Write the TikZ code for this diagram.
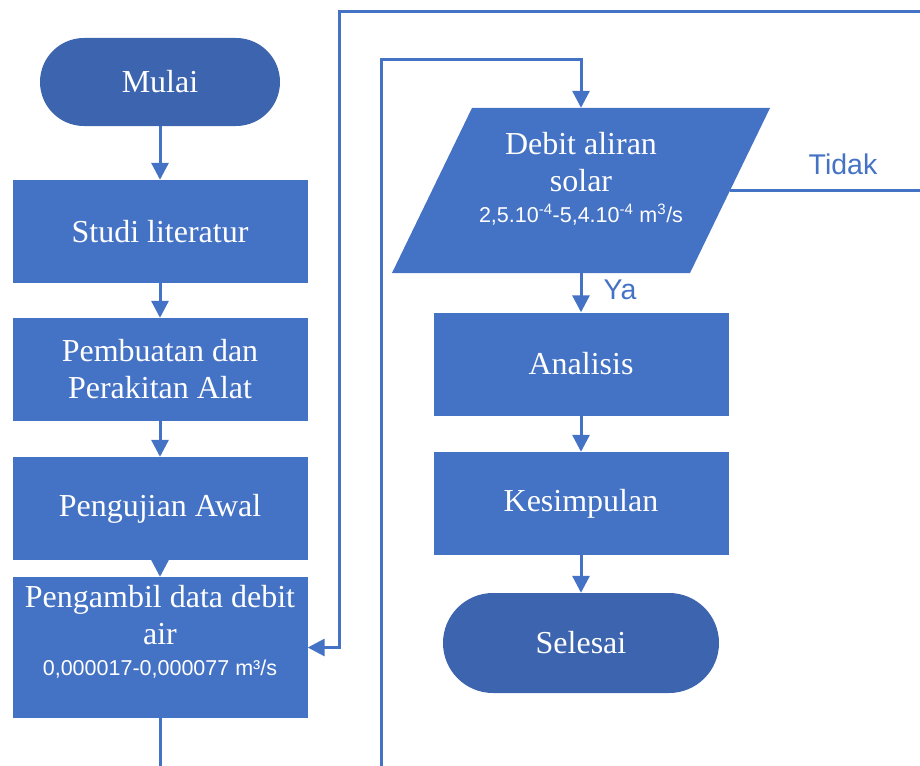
\documentclass[tikz,border=0pt]{standalone}
\usepackage{fontspec}
\setmainfont{Liberation Serif}
\setsansfont{Liberation Sans}
\usetikzlibrary{arrows.meta}
\definecolor{boxblue}{HTML}{4472C4}
\definecolor{endblue}{HTML}{3D64AE}
\newcommand{\kecil}{\sffamily\fontsize{21.5}{26}\selectfont}
\tikzset{
	kotak/.style={fill=boxblue, text=white, minimum width=295, minimum height=103, align=center, inner sep=0pt, font=\fontsize{32}{37}\selectfont},
	ujung/.style={fill=endblue, text=white, rounded corners=#1, align=center, inner sep=0pt, font=\fontsize{32}{37}\selectfont},
	panah/.style={draw=boxblue, line width=3pt, -{Triangle[width=17pt,length=17pt]}},
	label/.style={text=boxblue, font=\sffamily\fontsize{28.5}{32}\selectfont}
}

\begin{document}
\begin{tikzpicture}[x=1pt, y=-1pt]
		%%%%% START %%%%%
		
		\useasboundingbox (0, 0) rectangle (920, 765);
		\clip (0, 0) rectangle (920, 765);
		
		% kolom kiri
		\node[ujung=44pt, minimum width=240, minimum height=88] (mulai) at (160, 82) {Mulai};
		\node[kotak] (studi) at (160, 231.5) {Studi literatur};
		\node[kotak] (rakit) at (160, 369.5) {Pembuatan dan\\Perakitan Alat};
		\node[kotak] (uji) at (160, 508.5) {Pengujian Awal};
		\node[kotak, minimum height=141] (ambil) at (160, 647.5) {Pengambil data debit\\air\\[-6pt]{\kecil 0,000017-0,000077 m³/s}\\[-2pt]};
		
		\draw[panah] (mulai) -- (studi);
		\draw[panah] (studi) -- (rakit);
		\draw[panah] (rakit) -- (uji);
		\draw[panah] (uji) -- (ambil);
		
		% kolom kanan
		\fill[boxblue] (472, 108) -- (770, 108) -- (690, 273) -- (392, 273) -- cycle;
		\node[align=center, text=white, minimum width=298, minimum height=165, inner sep=0pt, font=\fontsize{32}{37}\selectfont] (debit) at (581, 190.5) {Debit aliran\\solar\\[-6pt]{\kecil 2,5.10\textsuperscript{-4}-5,4.10\textsuperscript{-4} m\textsuperscript{3}/s}\\[-10pt]};
		\node[kotak] (analisis) at (581, 364) {Analisis};
		\node[kotak] (simpul) at (581, 503.5) {Kesimpulan};
		\node[ujung=50pt, minimum width=276, minimum height=100] (selesai) at (581, 643) {Selesai};
		
		\draw[panah] (debit) -- (analisis);
		\draw[panah] (analisis) -- (simpul);
		\draw[panah] (simpul) -- (selesai);
		
		% garis balik
		\draw[panah] (ambil.south) -- (160, 790) -| (381, 60) -| (debit.north);
		\draw[panah] (debit.east) -| (935, 12) -| (339, 647.5) -- (ambil.east);
		
		\node[label] (tidak) at (843, 164) {Tidak};
		\node[label] (ya) at (620, 290) {Ya};
		
		%%%%% END %%%%%
	\end{tikzpicture}
\end{document}
